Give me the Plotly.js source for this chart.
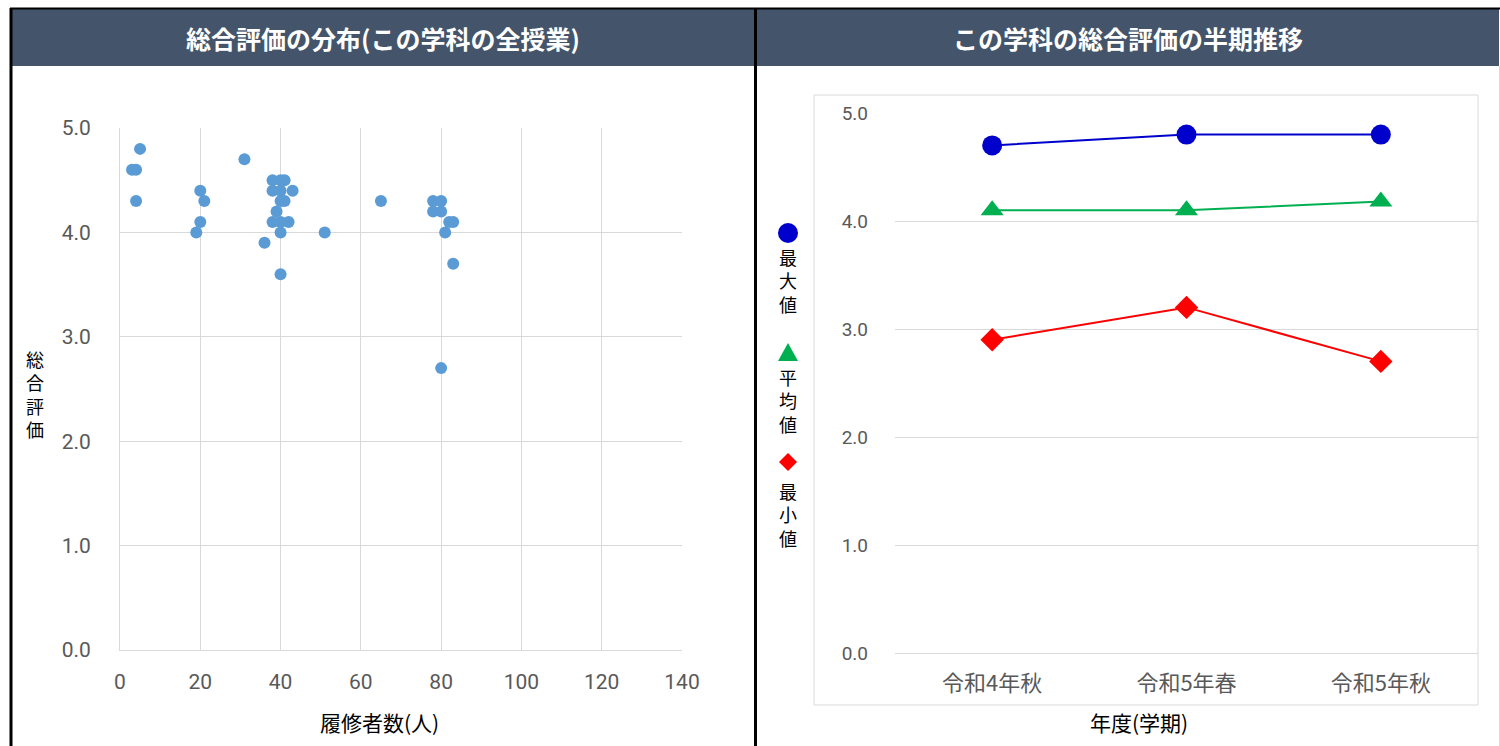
<!DOCTYPE html>
<html>
<head>
<meta charset="utf-8">
<script src="https://cdn.plot.ly/plotly-3.0.1.min.js"></script>
<style>
html,body{margin:0;padding:0;background:#fff;}
#chart{width:1500px;height:746px;}
</style>
</head>
<body>
<div id="chart"></div>
<script>
// ---- data ----
const scatterStudents = [3,4,5,4, 19,20,20,21, 31,36, 38,38,38,39, 40,40,40,40,40,40, 41,41,42,43, 51,65, 78,78,80,80,80,81,82,83,83];
const scatterScores   = [4.6,4.6,4.8,4.3, 4.0,4.4,4.1,4.3, 4.7,3.9, 4.5,4.4,4.1,4.2, 4.5,4.4,4.3,4.1,4.0,3.6, 4.5,4.3,4.1,4.4, 4.0,4.3, 4.3,4.2,4.3,4.2,2.7,4.0,4.1,4.1,3.7];
const terms = ['令和4年秋','令和5年春','令和5年秋'];
const maxValues = [4.7, 4.8, 4.8];
const avgValues = [4.1, 4.1, 4.18];
const minValues = [2.9, 3.2, 2.7];
const seriesNames = ['最大値','平均値','最小値'];
const leftXTicks = [0,20,40,60,80,100,120,140];

// ---- layout helpers (pixel -> paper) ----
const W = 1500, H = 746;
const px = x => x / W;
const py = y => 1 - y / H;
const JP = '"Noto Sans CJK JP", "Noto Sans", sans-serif';
const NUM = '"Roboto", "Noto Sans CJK JP", sans-serif';
const grid = '#d9d9d9';
const tickColor = '#595959';

const traces = [
  {x: scatterStudents, y: scatterScores, type: 'scatter', mode: 'markers',
   marker: {color: '#5B9BD5', size: 12}, xaxis: 'x', yaxis: 'y', cliponaxis: false, showlegend: false},
  {x: terms, y: maxValues, type: 'scatter', mode: 'lines+markers', name: seriesNames[0],
   line: {color: '#0000CC', width: 2}, marker: {color: '#0000CC', size: 20, symbol: 'circle'},
   xaxis: 'x2', yaxis: 'y2', showlegend: false},
  {x: terms, y: avgValues, type: 'scatter', mode: 'lines+markers', name: seriesNames[1],
   line: {color: '#00B050', width: 2}, marker: {color: '#00B050', size: 20, symbol: 'triangle-up'},
   xaxis: 'x2', yaxis: 'y2', showlegend: false},
  {x: terms, y: minValues, type: 'scatter', mode: 'lines+markers', name: seriesNames[2],
   line: {color: '#FF0000', width: 2}, marker: {color: '#FF0000', size: 18, symbol: 'diamond'},
   xaxis: 'x2', yaxis: 'y2', showlegend: false}
];

const shapes = [
  // headers
  {type:'rect', xref:'paper', yref:'paper', x0:px(12), x1:px(754), y0:py(66), y1:py(9), fillcolor:'#44546A', line:{width:0}, layer:'below'},
  {type:'rect', xref:'paper', yref:'paper', x0:px(757), x1:px(1499), y0:py(66), y1:py(9), fillcolor:'#44546A', line:{width:0}, layer:'below'},
  // borders
  {type:'line', xref:'paper', yref:'paper', x0:px(10), x1:px(1500), y0:py(8.5), y1:py(8.5), line:{color:'#000', width:2}},
  {type:'line', xref:'paper', yref:'paper', x0:px(11), x1:px(11), y0:py(8), y1:py(746), line:{color:'#000', width:3}},
  {type:'line', xref:'paper', yref:'paper', x0:px(755.5), x1:px(755.5), y0:py(8), y1:py(746), line:{color:'#000', width:3}},
  {type:'line', xref:'paper', yref:'paper', x0:px(1499.5), x1:px(1499.5), y0:py(66), y1:py(746), line:{color:grid, width:1}},
  // right chart area box
  {type:'rect', xref:'paper', yref:'paper', x0:px(814), x1:px(1478), y0:py(705), y1:py(95), line:{color:grid, width:1}, layer:'below'},
  // legend symbols
  {type:'circle', xref:'paper', yref:'paper', x0:px(778), x1:px(798), y0:py(243), y1:py(223), fillcolor:'#0000CC', line:{width:0}},
  {type:'path', xref:'paper', yref:'paper', path:`M ${px(778)} ${py(361)} L ${px(798)} ${py(361)} L ${px(788)} ${py(343)} Z`, fillcolor:'#00B050', line:{width:0}},
  {type:'path', xref:'paper', yref:'paper', path:`M ${px(779)} ${py(462)} L ${px(788)} ${py(453)} L ${px(797)} ${py(462)} L ${px(788)} ${py(471)} Z`, fillcolor:'#FF0000', line:{width:0}}
];

const vert = s => s.split('').join('<br>');

const annotations = [
  {text:'総合評価の分布(この学科の全授業)', xref:'paper', yref:'paper', x:px(383), y:py(38), showarrow:false,
   font:{family:JP, size:25, color:'#fff', weight:'bold'}, xanchor:'center', yanchor:'middle'},
  {text:'この学科の総合評価の半期推移', xref:'paper', yref:'paper', x:px(1128), y:py(38), showarrow:false,
   font:{family:JP, size:25, color:'#fff', weight:'bold'}, xanchor:'center', yanchor:'middle'},
  {text:'履修者数(人)', xref:'paper', yref:'paper', x:px(379), y:py(722), showarrow:false,
   font:{family:JP, size:21, color:'#000'}, xanchor:'center', yanchor:'middle'},
  {text:'年度(学期)', xref:'paper', yref:'paper', x:px(1139), y:py(722), showarrow:false,
   font:{family:JP, size:21, color:'#000'}, xanchor:'center', yanchor:'middle'},
  {text:vert('総合評価'), xref:'paper', yref:'paper', x:px(35), y:py(394), showarrow:false,
   font:{family:JP, size:18, color:'#000'}, xanchor:'center', yanchor:'middle'},
  {text:vert(seriesNames[0]), xref:'paper', yref:'paper', x:px(788), y:py(280), showarrow:false,
   font:{family:JP, size:18, color:'#000'}, xanchor:'center', yanchor:'middle'},
  {text:vert(seriesNames[1]), xref:'paper', yref:'paper', x:px(788), y:py(400), showarrow:false,
   font:{family:JP, size:18, color:'#000'}, xanchor:'center', yanchor:'middle'},
  {text:vert(seriesNames[2]), xref:'paper', yref:'paper', x:px(788), y:py(514), showarrow:false,
   font:{family:JP, size:18, color:'#000'}, xanchor:'center', yanchor:'middle'}
];

const layout = {
  width: W, height: H,
  margin: {l:0, r:0, t:0, b:0, pad:0},
  paper_bgcolor: '#fff', plot_bgcolor: 'rgba(0,0,0,0)',
  showlegend: false,
  xaxis: {domain:[px(120), px(682)], range:[0,140], tickvals: leftXTicks, showgrid:true, gridcolor:grid,
          showline:true, linecolor:grid, zeroline:false, ticks:'', ticklabelstandoff:13,
          tickfont:{family:NUM, size:21, color:tickColor}, anchor:'y', fixedrange:true},
  yaxis: {domain:[py(650), py(128)], range:[0,5], dtick:1, tickformat:'.1f', showgrid:true, gridcolor:grid,
          showline:true, linecolor:grid, zeroline:false, ticks:'', ticklabelstandoff:24,
          tickfont:{family:NUM, size:21, color:tickColor}, anchor:'x', fixedrange:true},
  xaxis2: {domain:[px(895), px(1478)], type:'category', range:[-0.5, 2.5], showgrid:false, showline:false,
           zeroline:false, ticks:'', ticklabelstandoff:15, tickfont:{family:JP, size:22, color:tickColor},
           anchor:'y2', fixedrange:true},
  yaxis2: {domain:[py(653), py(113)], range:[0,5], dtick:1, tickformat:'.1f', showgrid:true, gridcolor:grid,
           showline:false, zeroline:true, zerolinecolor:grid, zerolinewidth:1, ticks:'', ticklabelstandoff:26,
           tickfont:{family:NUM, size:19, color:tickColor}, anchor:'x2', fixedrange:true},
  shapes: shapes,
  annotations: annotations
};

Plotly.newPlot('chart', traces, layout, {displayModeBar:false, staticPlot:true});
</script>
</body>
</html>
